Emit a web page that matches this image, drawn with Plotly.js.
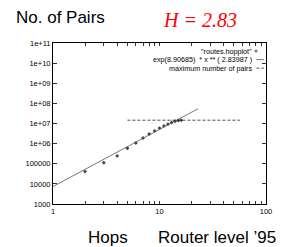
<!DOCTYPE html>
<html><head><meta charset="utf-8">
<script src="https://cdn.plot.ly/plotly-3.0.1.min.js"></script>
<style>html,body{margin:0;padding:0;background:#fff}#c{width:282px;height:247px}</style>
</head><body><div id="c"></div>
<script>
var hops = [2, 3, 4, 5, 6, 7, 8, 9, 10, 11, 12, 13, 14, 15, 16];
var pairs = [40700, 112000, 246000, 590000, 1070000, 1900000, 3000000, 4300000, 5900000, 7600000, 9300000, 11200000, 13000000, 14200000, 14600000];
var fitX = [1, 23];
var fitY = [7386, 54000000];
var maxX = [5, 57];
var maxY = [14600000, 14600000];
var yTickVals = [1e3, 1e4, 1e5, 1e6, 1e7, 1e8, 1e9, 1e10, 1e11];
var yTickText = ['1000', '10000', '100000', '1e+06', '1e+07', '1e+08', '1e+09', '1e+10', '1e+11'];
var xTickVals = [1, 2, 3, 4, 5, 6, 7, 8, 9, 10, 20, 30, 40, 50, 60, 70, 80, 90, 100];
var xTickText = ['1', '', '', '', '', '', '', '', '', '10', '', '', '', '', '', '', '', '', '100'];
var legendLabels = ['"routes.hopplot"', 'exp(8.90685)  * x ** ( 2.83987 )', 'maximum number of pairs'];

var f = 'Liberation Sans, Arial, sans-serif';
var traces = [
  {x: hops, y: pairs, mode: 'markers', type: 'scatter', marker: {symbol: 'diamond', size: 3, color: '#444'}},
  {x: fitX, y: fitY, mode: 'lines', type: 'scatter', line: {color: '#555', width: 0.8}},
  {x: maxX, y: maxY, mode: 'lines', type: 'scatter', line: {color: '#222', width: 0.8, dash: '3px,2px'}}
];
var ax = {type: 'log', showline: true, linecolor: '#000', linewidth: 1, mirror: 'ticks', ticks: 'inside',
  ticklen: 3, tickcolor: '#000', tickwidth: 0.8, showgrid: false, zeroline: false, tickmode: 'array',
  tickfont: {family: f, size: 7.5, color: '#000'}};
var legY = [0.950, 0.897, 0.844];
var layout = {
  width: 282, height: 247, margin: {l: 53, r: 16, t: 43, b: 43},
  paper_bgcolor: '#fff', plot_bgcolor: '#fff', showlegend: false,
  xaxis: Object.assign({}, ax, {range: [0, 2], tickvals: xTickVals, ticktext: xTickText}),
  yaxis: Object.assign({}, ax, {range: [3, 11], tickvals: yTickVals, ticktext: yTickText, ticklen: 4}),
  annotations: [
    {xref: 'paper', yref: 'paper', x: -0.185, y: 1.16, xanchor: 'left', yanchor: 'middle', showarrow: false,
      text: 'No. of Pairs', font: {family: f, size: 17, color: '#000'}},
    {xref: 'paper', yref: 'paper', x: 0.505, y: 1.143, xanchor: 'left', yanchor: 'middle', showarrow: false,
      text: '<i>H = 2.83</i>', font: {family: 'Liberation Serif, Times New Roman, serif', size: 20, color: '#ff0000'}},
    {xref: 'paper', yref: 'paper', x: 0.155, y: -0.205, xanchor: 'left', yanchor: 'middle', showarrow: false,
      text: 'Hops', font: {family: f, size: 17, color: '#000'}},
    {xref: 'paper', yref: 'paper', x: 0.485, y: -0.205, xanchor: 'left', yanchor: 'middle', showarrow: false,
      text: 'Router level ’95', font: {family: f, size: 17, color: '#000'}},
    {xref: 'paper', yref: 'paper', x: 0.94, y: legY[0], xanchor: 'right', yanchor: 'middle', showarrow: false, borderpad: 0,
      text: legendLabels[0], font: {family: f, size: 7.2, color: '#000'}},
    {xref: 'paper', yref: 'paper', x: 0.94, y: legY[1], xanchor: 'right', yanchor: 'middle', showarrow: false, borderpad: 0,
      text: legendLabels[1], font: {family: f, size: 7.2, color: '#000'}},
    {xref: 'paper', yref: 'paper', x: 0.94, y: legY[2], xanchor: 'right', yanchor: 'middle', showarrow: false, borderpad: 0,
      text: legendLabels[2], font: {family: f, size: 7.2, color: '#000'}}
  ],
  shapes: [
    {type: 'line', xref: 'paper', yref: 'paper', x0: 0.945, x1: 0.961, y0: legY[0], y1: legY[0], line: {color: '#333', width: 0.8}},
    {type: 'line', xref: 'paper', yref: 'paper', x0: 0.953, x1: 0.953, y0: legY[0] - 0.01, y1: legY[0] + 0.01, line: {color: '#333', width: 0.8}},
    {type: 'line', xref: 'paper', yref: 'paper', x0: 0.955, x1: 0.99, y0: legY[1], y1: legY[1], line: {color: '#555', width: 0.8}},
    {type: 'line', xref: 'paper', yref: 'paper', x0: 0.955, x1: 0.99, y0: legY[2], y1: legY[2], line: {color: '#222', width: 0.8, dash: '3px,2px'}}
  ]
};
Plotly.newPlot('c', traces, layout, {staticPlot: true});
</script></body></html>
